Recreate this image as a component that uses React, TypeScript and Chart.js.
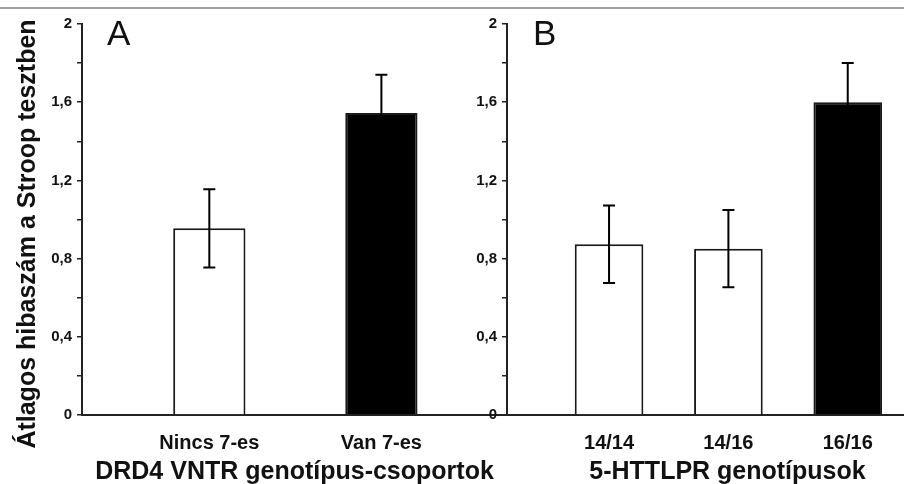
import React, { useEffect, useRef } from "react";
import { Chart, registerables } from "chart.js";

Chart.register(...registerables);

// Panel A data
const categoriesA = ["Nincs 7-es", "Van 7-es"];
const positionsA = [1, 2];
const meansA = [0.955, 1.545];
const errorsA = [0.2, 0.195];
const colorsA = ["#ffffff", "#000000"];
const xRangeA = [0.26, 2.73];
const titleA = "DRD4 VNTR genotípus-csoportok";

// Panel B data
const categoriesB = ["14/14", "14/16", "16/16"];
const positionsB = [1, 2, 3];
const meansB = [0.873, 0.851, 1.6];
const errorsB = [0.198, 0.198, 0.2];
const colorsB = ["#ffffff", "#ffffff", "#000000"];
const xRangeB = [0.145, 3.84];
const titleB = "5-HTTLPR genotípusok";

const yTitle = "Átlagos hibaszám a Stroop tesztben";
const yMin = 0;
const yMax = 2;
const yStep = 0.2;

const FONT = "'Liberation Sans', Arial, Helvetica, sans-serif";
const INK = "#111111";

function fmt(v: number): string {
  const r = Math.round(v * 10) / 10;
  return String(r).replace(".", ",");
}

const errorBarPlugin = {
  id: "errorBars",
  afterDatasetsDraw(chart: any, _args: any, opts: any) {
    const { ctx } = chart;
    const meta = chart.getDatasetMeta(0);
    const yScale = chart.scales.y;
    const data = chart.data.datasets[0].data as any[];
    const errs: number[] = opts.errors || [];
    ctx.save();
    ctx.strokeStyle = "#000000";
    ctx.lineWidth = 2;
    meta.data.forEach((el: any, i: number) => {
      const v = data[i].y;
      const e = errs[i];
      const x = el.x;
      const yt = yScale.getPixelForValue(v + e);
      const yb = yScale.getPixelForValue(v - e);
      ctx.beginPath();
      ctx.moveTo(x, yt);
      ctx.lineTo(x, yb);
      ctx.moveTo(x - 6, yt);
      ctx.lineTo(x + 6, yt);
      ctx.moveTo(x - 6, yb);
      ctx.lineTo(x + 6, yb);
      ctx.stroke();
    });
    ctx.restore();
  },
};

const panelTextPlugin = {
  id: "panelText",
  afterDraw(chart: any, _args: any, opts: any) {
    const { ctx, chartArea } = chart;
    ctx.save();
    ctx.fillStyle = INK;
    if (opts.letter) {
      ctx.font = `35px ${FONT}`;
      ctx.textAlign = "left";
      ctx.textBaseline = "alphabetic";
      ctx.fillText(opts.letter, chartArea.left + opts.letterDx, 45);
    }
    if (opts.yTitle) {
      ctx.translate(opts.yTitleX, opts.yTitleY);
      ctx.rotate(-Math.PI / 2);
      ctx.font = `bold 25px ${FONT}`;
      ctx.textAlign = "center";
      ctx.textBaseline = "middle";
      ctx.fillText(opts.yTitle, 0, 0);
    }
    ctx.restore();
  },
};

function makeConfig(
  categories: string[],
  positions: number[],
  means: number[],
  errors: number[],
  colors: string[],
  xRange: number[],
  title: string,
  yWidth: number,
  barRatio: number,
  textOpts: any
): any {
  return {
    type: "bar",
    data: {
      datasets: [
        {
          data: positions.map((p, i) => ({ x: p, y: means[i] })),
          backgroundColor: colors,
          borderColor: "#1a1a1a",
          borderWidth: 2,
          categoryPercentage: 1,
          barPercentage: barRatio,
        },
      ],
    },
    options: {
      animation: false,
      responsive: false,
      devicePixelRatio: 1,
      layout: { padding: { left: 0, right: 0, top: 24, bottom: 0 } },
      plugins: {
        legend: { display: false },
        tooltip: { enabled: false },
        errorBars: { errors },
        panelText: textOpts,
      },
      scales: {
        x: {
          type: "linear",
          offset: false,
          min: xRange[0],
          max: xRange[1],
          afterBuildTicks: (s: any) => {
            s.ticks = positions.map((v) => ({ value: v }));
          },
          afterFit: (s: any) => {
            s.height = 72;
          },
          ticks: {
            autoSkip: false,
            maxRotation: 0,
            padding: 16,
            color: INK,
            font: { family: FONT, size: 20, weight: "bold" },
            callback: (v: number) => {
              const i = positions.indexOf(v);
              return i >= 0 ? categories[i] : "";
            },
          },
          grid: { display: false, drawTicks: false, offset: false },
          border: { display: true, color: "#222222", width: 2 },
          title: {
            display: true,
            text: title,
            color: INK,
            font: { family: FONT, size: 25, weight: "bold" },
            padding: { top: 0, bottom: 0 },
          },
        },
        y: {
          min: yMin,
          max: yMax,
          afterFit: (s: any) => {
            s.width = yWidth;
          },
          ticks: {
            stepSize: yStep,
            padding: 5,
            color: INK,
            font: { family: FONT, size: 15, weight: "bold" },
            callback: (v: number) => {
              const k = Math.round(v * 10);
              return k % 4 === 0 ? fmt(v) : "";
            },
          },
          grid: {
            drawOnChartArea: false,
            drawTicks: true,
            tickLength: 5,
            color: "#222222",
            lineWidth: 1.5,
          },
          border: { display: true, color: "#222222", width: 2 },
        },
      },
    },
    plugins: [errorBarPlugin, panelTextPlugin],
  };
}

export default function App() {
  const refA = useRef<HTMLCanvasElement>(null);
  const refB = useRef<HTMLCanvasElement>(null);

  useEffect(() => {
    const a = new Chart(
      refA.current as HTMLCanvasElement,
      makeConfig(categoriesA, positionsA, meansA, errorsA, colorsA, xRangeA, titleA, 82, 0.42, {
        letter: "A",
        letterDx: 25,
        yTitle: yTitle,
        yTitleX: 28,
        yTitleY: 234,
      })
    );
    const b = new Chart(
      refB.current as HTMLCanvasElement,
      makeConfig(categoriesB, positionsB, meansB, errorsB, colorsB, xRangeB, titleB, 58, 0.575, {
        letter: "B",
        letterDx: 26,
      })
    );
    return () => {
      a.destroy();
      b.destroy();
    };
  }, []);

  return (
    <div
      style={{
        position: "fixed",
        left: 0,
        top: 0,
        width: 904,
        height: 484,
        overflow: "hidden",
        background: "#ffffff",
      }}
    >
      <div
        style={{
          position: "absolute",
          left: 0,
          top: 7,
          width: 904,
          height: 2,
          background: "#a0a0a0",
        }}
      />
      <canvas
        ref={refA}
        width={507}
        height={487}
        style={{ position: "absolute", left: 0, top: 0, width: 507, height: 487 }}
      />
      <canvas
        ref={refB}
        width={499}
        height={487}
        style={{ position: "absolute", left: 449, top: 0, width: 499, height: 487 }}
      />
    </div>
  );
}
